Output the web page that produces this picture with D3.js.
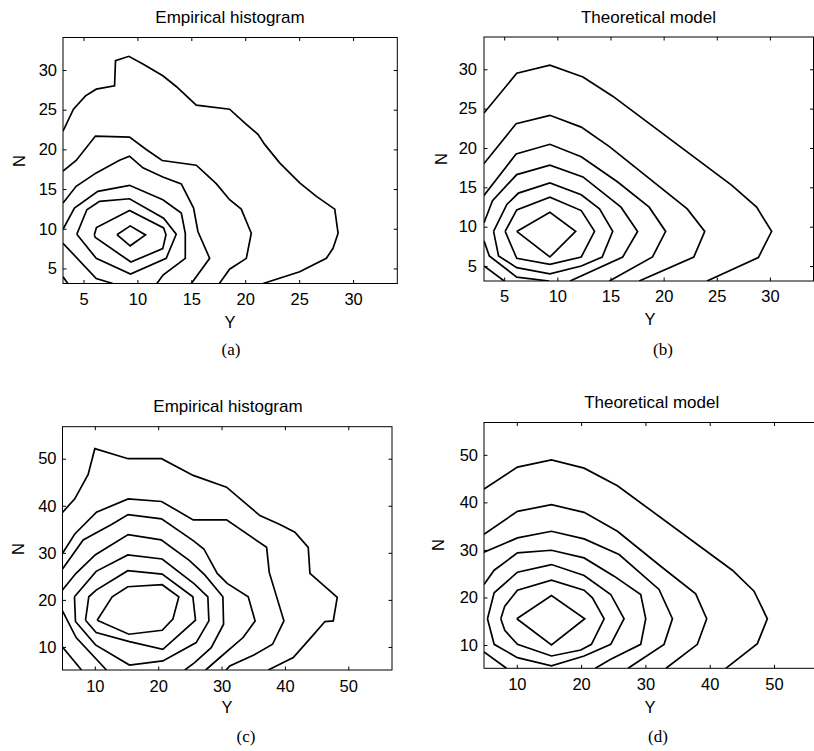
<!DOCTYPE html>
<html>
<head>
<meta charset="utf-8">
<script src="https://cdn.jsdelivr.net/npm/d3@7"></script>
<style>
  body { margin: 0; background: #fff; }
</style>
</head>
<body>
<script>
// tick values and texts
const ticksSmall = [5, 10, 15, 20, 25, 30];
const ticksLarge = [10, 20, 30, 40, 50];
const titles = ["Empirical histogram", "Theoretical model", "Empirical histogram", "Theoretical model"];
const captions = ["(a)", "(b)", "(c)", "(d)"];
const xName = "Y";
const yName = "N";

// contour lines, [Y, N] points
const contoursA = [
  [[3.1,22.3],[4.07,25.06],[5.19,26.75],[6.18,27.59],[7.88,28.02],[7.97,31.18],[9.21,31.73],[10.51,30.76],[12.36,29.28],[13.6,27.93],[15.46,25.57],[18.55,25.06],[20.1,23.16],[21.18,21.89],[21.8,20.63],[23.19,18.3],[25.05,15.77],[26.6,14.08],[28.3,12.47],[28.61,9.43],[28.14,7.53],[27.52,6.27],[25.05,4.58],[21.65,3.1]],
  [[3.1,17.25],[4.32,18.6],[6.11,21.68],[9.27,21.55],[10.82,19.99],[12.3,18.6],[15.46,18.01],[17.31,15.68],[18.55,13.66],[19.63,12.47],[20.56,9.43],[20.1,6.27],[18.55,4.9],[17.6,3.1]],
  [[3.1,13.24],[4.32,15.35],[6.18,17.04],[8.34,18.64],[9.27,19.15],[10.51,17.67],[12.36,16.53],[14.07,15.64],[15.21,12.6],[15.61,9.65],[16.7,6.27],[15.0,3.1]],
  [[3.1,9.94],[4.16,12.6],[6.33,14.71],[9.27,15.47],[12.36,13.66],[14.07,11.97],[14.44,9.43],[14.44,6.27],[12.4,4.2],[11.8,3.1]],
  [[4.38,9.31],[5.31,12.39],[6.49,13.45],[9.27,13.78],[12.43,11.33],[13.6,9.31],[12.67,6.27],[9.36,4.28],[6.18,6.27],[4.38,9.31]],
  [[6.0,9.2],[6.2,10.15],[9.27,12.3],[12.43,10.1],[12.65,9.25],[12.35,7.5],[9.4,5.8],[6.1,8.9],[6.0,9.2]],
  [[8.1,9.25],[9.33,10.36],[10.75,9.22],[9.33,7.85],[8.1,9.25]],
  [[3.1,8.17],[6.18,3.73],[7.72,3.1]],
  [[3.1,3.94],[3.55,3.1]]
];

const contoursB = [
  [[3.1,24.44],[6.18,29.49],[9.3,30.51],[12.41,29.02],[15.21,26.58],[26.42,15.26],[28.75,12.48],[30.16,9.4],[28.91,6.07],[24.08,3.1]],
  [[3.1,18.03],[6.12,23.08],[9.3,24.15],[12.25,22.65],[14.9,20.17],[22.22,12.26],[23.87,9.4],[22.84,6.15],[17.7,3.1]],
  [[3.1,13.97],[6.12,19.23],[9.3,20.47],[12.25,18.89],[15.68,15.68],[18.64,12.48],[20.19,9.4],[18.95,6.15],[14.9,3.1]],
  [[3.1,10.5],[3.9,13.3],[6.18,16.62],[9.3,17.82],[12.41,16.32],[15.99,12.48],[17.55,9.4],[16.15,6.15],[11.2,3.1]],
  [[4.0,9.4],[5.25,12.82],[6.34,14.27],[9.3,15.56],[12.25,14.06],[13.97,12.26],[15.21,9.4],[14.22,6.15],[12.25,5.0],[9.3,4.02],[6.18,4.79],[4.47,6.28],[4.0,9.4]],
  [[5.09,9.4],[6.18,12.14],[9.3,13.76],[12.25,12.05],[13.5,9.4],[12.25,6.15],[9.3,5.21],[6.18,5.98],[5.09,9.4]],
  [[6.18,9.4],[9.3,11.84],[11.72,9.4],[9.3,6.15],[6.18,9.4]],
  [[3.1,8.2],[3.6,6.28],[6.18,3.59],[9.23,3.1]],
  [[3.1,5.0],[5.0,3.1]]
];

const contoursC = [
  [[4.9,38.6],[6.84,41.47],[8.95,46.66],[10.0,52.13],[15.26,50.0],[20.53,50.0],[25.53,46.45],[30.79,43.96],[36.05,37.92],[39.21,36.0],[41.58,34.37],[43.68,31.17],[43.95,25.63],[48.26,20.52],[47.63,15.54],[46.32,15.4],[44.21,12.13],[41.32,7.73],[37.37,5.1]],
  [[4.9,29.89],[6.84,34.01],[10.26,38.63],[15.26,41.47],[20.53,40.91],[25.53,37.0],[30.79,37.0],[37.11,31.17],[37.53,25.84],[39.84,15.54],[38.05,10.57],[35.1,8.3],[31.3,5.95],[30.7,5.1]],
  [[4.9,26.55],[8.16,32.74],[12.63,36.0],[15.26,38.13],[20.53,37.21],[25.53,32.59],[27.21,30.82],[29.32,25.63],[30.89,23.5],[34.21,20.66],[35.3,15.5],[33.4,12.0],[29.7,7.7],[27.5,5.1]],
  [[4.9,22.1],[7.0,25.6],[10.1,29.6],[15.26,33.87],[20.47,32.74],[24.95,28.33],[27.32,25.35],[30.21,20.66],[30.32,14.83],[28.37,9.86],[25.7,6.6],[24.2,5.1]],
  [[6.79,20.66],[10.21,26.06],[15.21,29.54],[20.63,28.69],[25.7,23.4],[27.84,20.66],[28.0,15.54],[26.0,10.92],[20.74,7.02],[15.47,6.16],[10.11,10.43],[6.95,15.4],[6.79,20.66]],
  [[8.53,15.68],[9.05,20.66],[10.21,22.08],[15.21,26.2],[20.63,25.49],[25.47,20.66],[25.89,15.68],[20.74,9.5],[15.47,11.14],[10.21,13.05],[8.53,15.68]],
  [[10.37,15.68],[12.74,20.66],[15.21,22.79],[20.63,23.22],[23.26,20.66],[22.32,15.9],[20.63,13.55],[15.37,12.7],[10.37,15.68]],
  [[4.9,17.67],[7.05,12.0],[11.84,5.1]],
  [[4.9,10.0],[7.9,5.1]]
];

const contoursD = [
  [[4.9,42.8],[10.1,47.41],[15.39,48.95],[20.47,47.2],[25.65,43.5],[43.52,25.73],[46.89,21.33],[48.96,15.52],[47.41,10.28],[42.5,5.1]],
  [[4.9,33.3],[10.1,38.11],[15.39,39.51],[20.47,37.9],[25.65,33.92],[32.38,26.57],[37.82,20.77],[39.53,15.52],[38.08,10.14],[33.2,5.1]],
  [[4.9,29.51],[10.1,32.52],[15.39,33.92],[20.47,32.31],[25.91,29.02],[32.12,21.68],[34.2,15.52],[32.9,10.14],[27.3,5.1]],
  [[4.9,22.73],[6.48,25.73],[10.1,29.37],[15.39,29.93],[20.47,28.32],[25.13,24.48],[29.27,20.63],[30.05,15.52],[29.27,10.14],[24.61,7.0],[22.2,5.1]],
  [[5.44,15.52],[6.48,20.98],[10.1,25.31],[15.39,26.92],[20.47,24.62],[24.61,20.63],[26.68,15.52],[24.61,10.14],[20.47,7.69],[15.39,5.6],[10.1,7.34],[6.48,10.14],[5.44,15.52]],
  [[7.51,15.52],[8.13,18.18],[10.1,21.54],[15.39,23.64],[20.47,21.54],[21.76,19.93],[23.58,15.52],[21.61,10.14],[19.95,8.95],[15.39,7.69],[10.1,10.14],[8.13,13.08],[7.51,15.52]],
  [[10.0,15.52],[15.39,20.42],[20.57,15.52],[15.39,10.0],[10.0,15.52]],
  [[4.9,8.53],[8.4,5.1]]
];

const width = 814;
const height = 751;
const sans = "'Liberation Sans', Arial, Helvetica, sans-serif";
const serif = "'Liberation Serif', 'Times New Roman', serif";

const svg = d3.select("body")
  .append("svg")
  .attr("width", width)
  .attr("height", height);

// layout of the four panels (pixel boxes and text spots)
const panels = [
  { lines: contoursA, ticks: ticksSmall, xDomain: [3.1, 34.1], yDomain: [3.1, 34.1],
    left: 63, right: 397.3, top: 37.5, bottom: 283.5,
    title: [230, 23], xLab: [230, 328], yLab: [19, 161], cap: [231, 355], xPad: 9.8, yPad: 6 },
  { lines: contoursB, ticks: ticksSmall, xDomain: [3.1, 34.1], yDomain: [3.1, 34.1],
    left: 484, right: 813.5, top: 37, bottom: 281,
    title: [648.5, 23], xLab: [650, 325], yLab: [441, 159], cap: [663, 355], xPad: 9, yPad: 7 },
  { lines: contoursC, ticks: ticksLarge, xDomain: [4.9, 56.9], yDomain: [5.1, 56.8],
    left: 62.5, right: 392, top: 426.7, bottom: 670,
    title: [228, 411.7], xLab: [227, 713], yLab: [18, 549], cap: [246, 742], xPad: 10, yPad: 6 },
  { lines: contoursD, ticks: ticksLarge, xDomain: [4.9, 56.9], yDomain: [5.1, 56.8],
    left: 484, right: 818.4, top: 422.5, bottom: 668.3,
    title: [651.7, 408], xLab: [650, 713], yLab: [438, 545], cap: [658, 742], xPad: 10, yPad: 6 }
];

const tickLen = 3.5;
const fontSize = 16.5;

function styleAxis(a) {
  a.select(".domain").remove();
  a.attr("font-family", sans).attr("font-size", fontSize);
  a.selectAll(".tick line").attr("stroke", "#000");
  a.selectAll(".tick text").attr("fill", "#000");
}

function drawPanel(p, i) {
  const x = d3.scaleLinear().domain(p.xDomain).range([p.left, p.right]);
  const y = d3.scaleLinear().domain(p.yDomain).range([p.bottom, p.top]);
  const g = svg.append("g");

  g.append("clipPath").attr("id", "clip" + i)
    .append("rect")
    .attr("x", p.left).attr("y", p.top)
    .attr("width", p.right - p.left).attr("height", p.bottom - p.top);

  const line = d3.line().x(d => x(d[0])).y(d => y(d[1]));

  g.append("g")
    .attr("clip-path", `url(#clip${i})`)
    .selectAll("path")
    .data(p.lines)
    .join("path")
    .attr("d", line)
    .attr("fill", "none")
    .attr("stroke", "#000")
    .attr("stroke-width", 1.7);

  // ticks inside on all four sides
  g.append("g").attr("transform", `translate(0,${p.bottom})`)
    .call(d3.axisBottom(x).tickValues(p.ticks).tickSize(-tickLen).tickPadding(p.xPad))
    .call(styleAxis);
  g.append("g").attr("transform", `translate(0,${p.top})`)
    .call(d3.axisTop(x).tickValues(p.ticks).tickSize(-tickLen).tickFormat(() => ""))
    .call(styleAxis);
  g.append("g").attr("transform", `translate(${p.left},0)`)
    .call(d3.axisLeft(y).tickValues(p.ticks).tickSize(-tickLen).tickPadding(p.yPad))
    .call(styleAxis);
  g.append("g").attr("transform", `translate(${p.right},0)`)
    .call(d3.axisRight(y).tickValues(p.ticks).tickSize(-tickLen).tickFormat(() => ""))
    .call(styleAxis);

  g.append("rect")
    .attr("x", p.left).attr("y", p.top)
    .attr("width", p.right - p.left).attr("height", p.bottom - p.top)
    .attr("fill", "none")
    .attr("stroke", "#000")
    .attr("stroke-width", 1);

  g.append("text")
    .attr("x", p.title[0]).attr("y", p.title[1])
    .attr("text-anchor", "middle")
    .attr("font-family", sans).attr("font-size", 17)
    .text(titles[i]);

  g.append("text")
    .attr("x", p.xLab[0]).attr("y", p.xLab[1])
    .attr("text-anchor", "middle")
    .attr("font-family", sans).attr("font-size", fontSize)
    .text(xName);

  g.append("text")
    .attr("transform", `translate(${p.yLab[0]},${p.yLab[1]}) rotate(-90)`)
    .attr("text-anchor", "middle")
    .attr("dominant-baseline", "central")
    .attr("font-family", sans).attr("font-size", fontSize)
    .text(yName);

  g.append("text")
    .attr("x", p.cap[0]).attr("y", p.cap[1])
    .attr("text-anchor", "middle")
    .attr("font-family", serif).attr("font-size", 17)
    .text(captions[i]);
}

panels.forEach(drawPanel);
</script>
</body>
</html>
